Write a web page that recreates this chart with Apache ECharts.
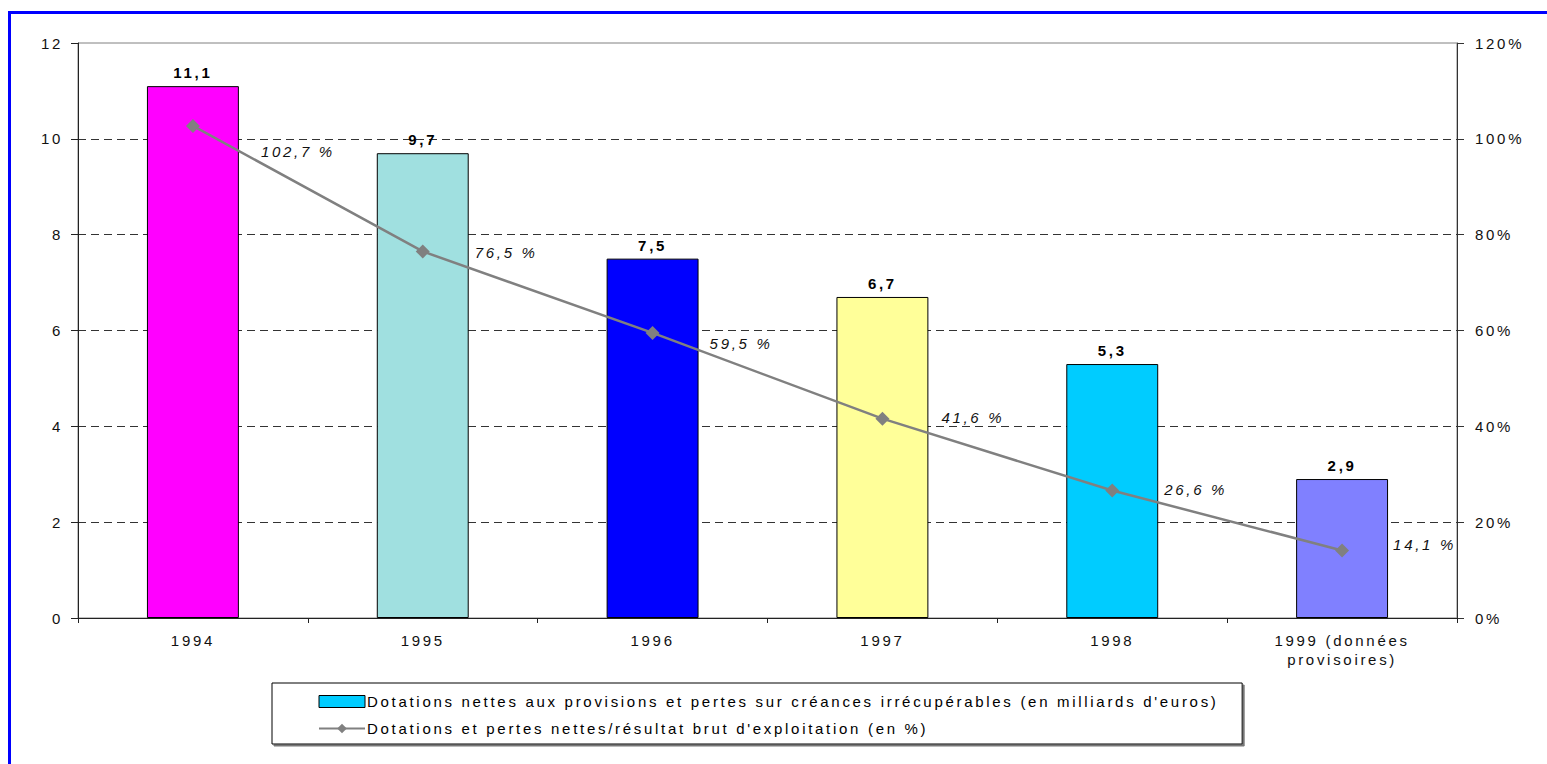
<!DOCTYPE html>
<html>
<head>
<meta charset="utf-8">
<script src="https://cdn.jsdelivr.net/npm/echarts@6/dist/echarts.min.js"></script>
<style>
  html, body { margin: 0; padding: 0; background: #fff; overflow: hidden; }
  #main { width: 1547px; height: 764px; }
  #main text { letter-spacing: 2.7px; }
  #frame { position: absolute; left: 8px; top: 11px; width: 3000px; height: 3000px;
           border-left: 3px solid #0000FF; border-top: 3px solid #0000FF; pointer-events: none; }
</style>
</head>
<body>
<div id="main"></div>
<div id="frame"></div>
<script>
const categories = ['1994', '1995', '1996', '1997', '1998', '1999 (données\nprovisoires)'];
const provisions = [11.1, 9.7, 7.5, 6.7, 5.3, 2.9];
const ratios = [102.7, 76.5, 59.5, 41.6, 26.6, 14.1];
const barColors = ['#FF00FF', '#A0E0E0', '#0000FF', '#FFFF99', '#00CCFF', '#8080FF'];
const leftTicks = [0, 12, 2];
const rightTicks = [0, 120, 20];
const barName = "Dotations nettes aux provisions et pertes sur créances irrécupérables (en milliards d'euros)";
const lineName = "Dotations et pertes nettes/résultat brut d'exploitation (en %)";
// label placement (style only)
const ratioLabelDx = [61, 45, 50, 52, 45, 44];
const ratioLabelDy = [26, 1, 11, -1, -1, -6];

const fmt = v => String(v).replace('.', ',');
const font = 'Liberation Sans, Arial, sans-serif';

const chart = echarts.init(document.getElementById('main'), null, { renderer: 'svg' });
chart.setOption({
  backgroundColor: '#fff',
  animation: false,
  textStyle: { fontFamily: font },
  grid: { left: 78, right: 90, top: 43, height: 575, show: true, borderColor: '#808080', borderWidth: 1, backgroundColor: '#fff' },
  legend: {
    orient: 'vertical', left: 272, top: 683,
    padding: [11, 272, 8, 46],
    itemGap: 12, itemWidth: 46, itemHeight: 12,
    backgroundColor: '#fff', borderColor: '#000', borderWidth: 1,
    shadowColor: '#777', shadowOffsetX: 2, shadowOffsetY: 2, shadowBlur: 0,
    textStyle: { fontFamily: font, fontSize: 15, color: '#000', padding: [0, 0, 0, -3] },
    data: [
      { name: barName, icon: 'rect', itemStyle: { color: '#00CCFF', borderColor: '#000', borderWidth: 1 } },
      { name: lineName }
    ]
  },
  xAxis: {
    type: 'category', data: categories,
    axisLine: { lineStyle: { color: '#222', width: 1 } },
    axisTick: { show: true, length: 5, lineStyle: { color: '#222' } },
    axisLabel: { interval: 0, fontSize: 15, color: '#111', margin: 13, lineHeight: 19, fontFamily: font }
  },
  yAxis: [
    {
      type: 'value', min: leftTicks[0], max: leftTicks[1], interval: leftTicks[2],
      axisLine: { show: true, lineStyle: { color: '#222' } },
      axisTick: { show: true, length: 7, lineStyle: { color: '#222' } },
      axisLabel: { fontSize: 15, color: '#111', margin: 15, fontFamily: font },
      splitLine: { show: true, showMinLine: false, showMaxLine: false, lineStyle: { color: '#333', type: [8, 5], width: 1 } }
    },
    {
      type: 'value', min: rightTicks[0], max: rightTicks[1], interval: rightTicks[2],
      position: 'right',
      axisLine: { show: true, lineStyle: { color: '#333' } },
      axisTick: { show: true, length: 7, inside: false, lineStyle: { color: '#333' } },
      axisLabel: { fontSize: 15, color: '#111', margin: 18, formatter: '{value}%', fontFamily: font },
      splitLine: { show: false }
    }
  ],
  series: [
    {
      name: barName, type: 'bar', barWidth: '40%',
      itemStyle: { color: '#00CCFF', borderColor: '#000', borderWidth: 1 },
      data: provisions.map((v, i) => ({ value: v, itemStyle: { color: barColors[i] } })),
      label: { show: true, position: 'top', distance: 6, fontSize: 15, fontWeight: 'bold', color: '#000',
               fontFamily: font, formatter: p => fmt(p.value) }
    },
    {
      name: lineName, type: 'line', yAxisIndex: 1,
      symbol: 'diamond', symbolSize: 14,
      lineStyle: { color: '#808080', width: 2.5 },
      itemStyle: { color: '#808080' },
      data: ratios.map((v, i) => ({
        value: v,
        label: { offset: [ratioLabelDx[i], ratioLabelDy[i]] }
      })),
      label: { show: true, position: 'right', distance: 0, fontSize: 15, fontStyle: 'italic', color: '#111',
               fontFamily: font, formatter: p => fmt(p.value) + ' %' },
      z: 5
    }
  ]
});
</script>
</body>
</html>
